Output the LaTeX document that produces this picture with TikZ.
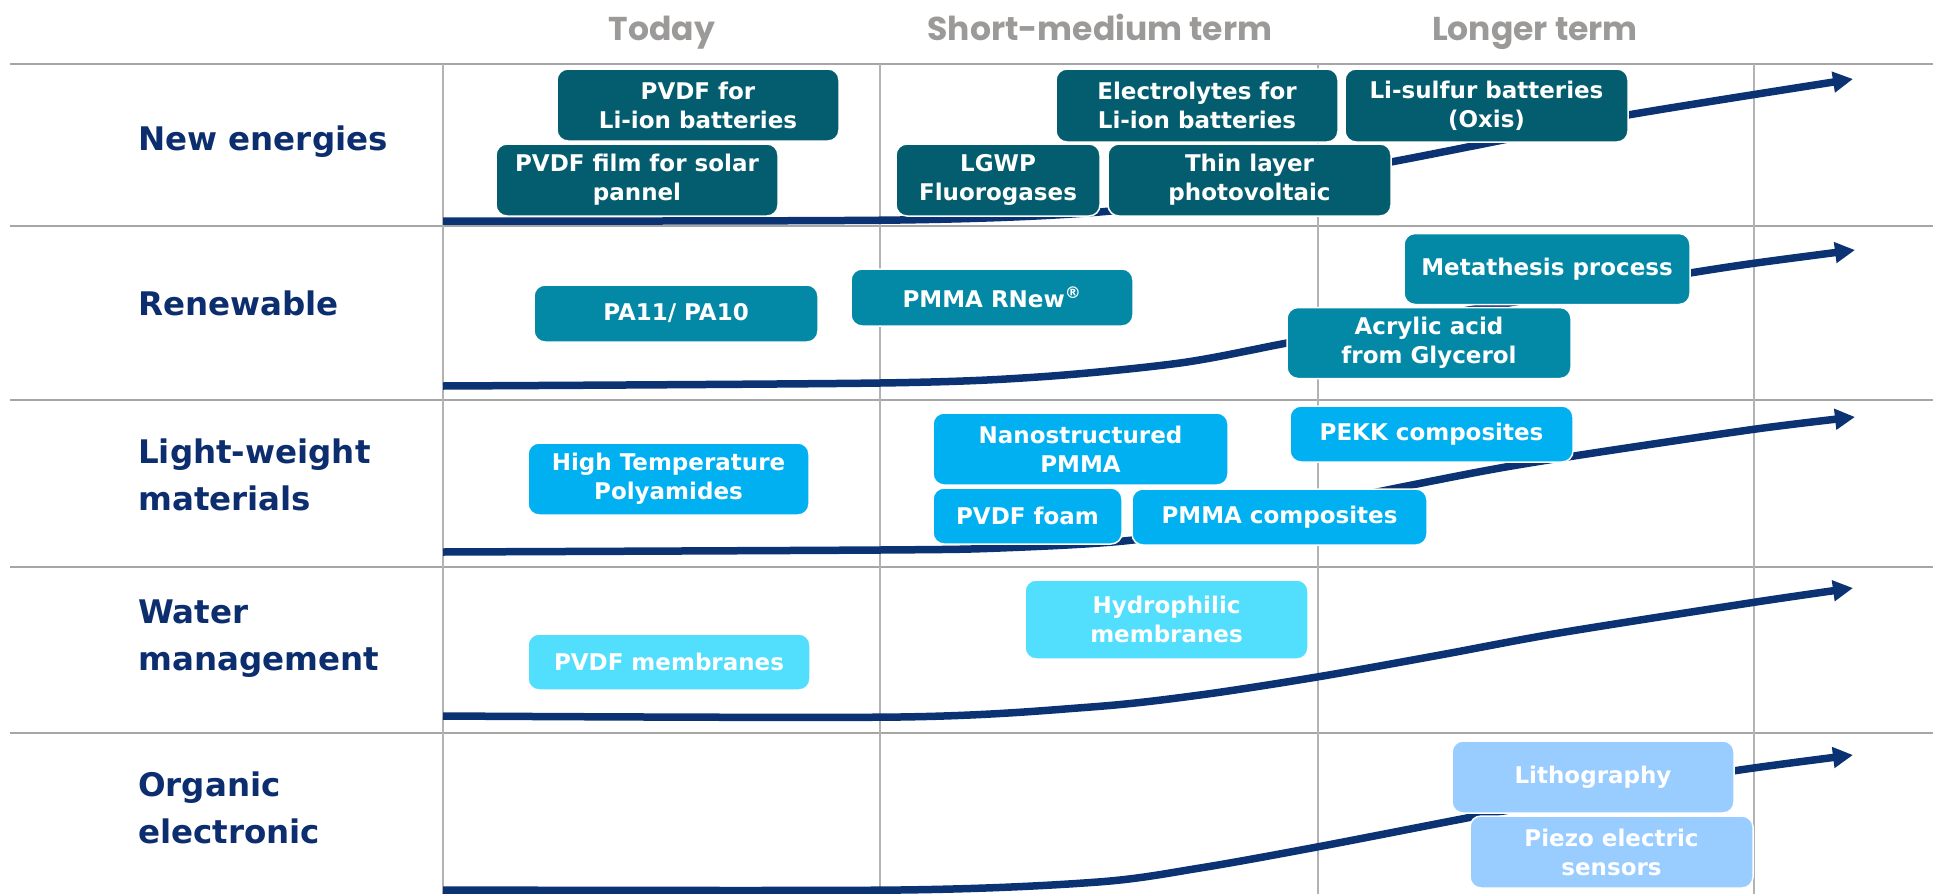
\documentclass[tikz,border=0pt]{standalone}
\usepackage{fontspec}
\usetikzlibrary{arrows.meta}
\newfontfamily\boxfont{DejaVu Sans}
\newfontfamily\hdfont{Poppins}
\definecolor{gridc}{HTML}{A6A6A6}
\definecolor{hdc}{HTML}{9C9A98}
\definecolor{navy}{HTML}{0D2E6E}
\definecolor{curvec}{HTML}{0B3373}
\definecolor{cA}{HTML}{045D6E}
\definecolor{cB}{HTML}{0388A6}
\definecolor{cC}{HTML}{00B0F0}
\definecolor{cD}{HTML}{52DFFD}
\definecolor{cE}{HTML}{99CCFF}
\begin{document}
\begin{tikzpicture}[x=1pt,y=-1pt,
 box/.style={rounded corners=11pt, draw=white, line width=1.5pt, text=white, align=center, inner sep=0pt, font=\boxfont\bfseries\fontsize{23}{29}\selectfont},
 rowlbl/.style={anchor=west, align=left, text=navy, inner sep=0pt, font=\boxfont\bfseries\fontsize{32.5}{47}\selectfont},
 hdr/.style={text=hdc, inner sep=0pt, anchor=base, font=\hdfont\bfseries\fontsize{33}{38}\selectfont},
 gridh/.style={draw=gridc, line width=2pt},
 gridv/.style={draw=gridc!85, line width=1.2pt},
 trend/.style={draw=curvec, line width=7.5pt, -{Triangle[length=20pt,width=20pt]}},
]
\fill[white] (0,0) rectangle (1933,894);
\useasboundingbox (0,0) rectangle (1933,894);

% grid
\foreach \yy in {64,226,400,567,733} \draw[gridh] (10,\yy) -- (1933,\yy);
\foreach \xx in {443,880,1318,1754} \draw[gridv] (\xx,64) -- (\xx,894);

% headers
\node[hdr] (hToday) at (662,40) {Today};
\node[hdr] (hShort) at (1100,40) {Short-medium term};
\node[hdr] (hLong) at (1535,40) {Longer term};

% row labels
\node[rowlbl] (lNew) at (138,142) {New energies};
\node[rowlbl] (lRen) at (138,303) {Renewable};
\node[rowlbl] (lLight) at (138,475) {Light-weight\\materials};
\node[rowlbl] (lWater) at (138,639) {Water\\management};
\node[rowlbl] (lOrg) at (138,808) {Organic\\electronic};

% trend curves
\draw[trend] plot[smooth, tension=0.5] coordinates {(443,221) (900,220) (1111,211) (1250,188) (1391,162) (1493,142) (1628,115) (1853,79)};
\draw[trend] plot[smooth, tension=0.5] coordinates {(443,386) (880,383) (1038,377) (1180,363) (1287,343) (1400,322) (1550,296) (1690,273) (1756,263) (1855,250)};
\draw[trend] plot[smooth, tension=0.5] coordinates {(443,552) (880,550) (1000,548) (1133,540) (1250,518) (1397,488) (1500,468) (1600,452) (1756,429) (1855,417)};
\draw[trend] plot[smooth, tension=0.5] coordinates {(443,716) (900,717) (1091,707) (1200,695) (1317,677) (1440,655) (1559,633) (1756,602) (1853,588)};
\draw[trend] plot[smooth, tension=0.5] coordinates {(443,890) (900,890) (1098,882) (1200,868) (1317,847) (1493,813) (1600,794) (1733,771) (1853,755)};

% row 1 boxes
\node[box, fill=cA, minimum width=282pt, minimum height=72pt] (a1) at (698,105) {PVDF for\\Li-ion batteries};
\node[box, fill=cA, minimum width=282pt, minimum height=72pt] (a2) at (637,180) {PVDF film for solar\\pannel};
\node[box, fill=cA, minimum width=204pt, minimum height=72pt] (a3) at (998,180) {LGWP\\Fluorogases};
\node[box, fill=cA, minimum width=282pt, minimum height=73pt] (a4) at (1197,105.5) {Electrolytes for\\Li-ion batteries};
\node[box, fill=cA, minimum width=283pt, minimum height=72pt] (a5) at (1249.5,180) {Thin layer\\photovoltaic};
\node[box, fill=cA, minimum width=283pt, minimum height=73pt] (a6) at (1486.5,105.5) {Li-sulfur batteries\\(Oxis)};

% row 2 boxes
\node[box, fill=cB, minimum width=284pt, minimum height=57pt] (b1) at (676,313.5) {PA11/ PA10};
\node[box, fill=cB, minimum width=282pt, minimum height=57pt] (b2) at (992,297.5) {PMMA RNew\textsuperscript{®}};
\node[box, fill=cB, minimum width=284pt, minimum height=71pt] (b3) at (1429,343) {Acrylic acid\\from Glycerol};
\node[box, fill=cB, minimum width=286pt, minimum height=71pt] (b4) at (1547,269) {Metathesis process};

% row 3 boxes
\node[box, fill=cC, minimum width=281pt, minimum height=72pt] (c1) at (668.5,479) {High Temperature\\Polyamides};
\node[box, fill=cC, minimum width=295pt, minimum height=72pt] (c2) at (1080.5,449) {Nanostructured\\PMMA};
\node[box, fill=cC, minimum width=189pt, minimum height=56pt] (c3) at (1027.5,516) {PVDF foam};
\node[box, fill=cC, minimum width=295pt, minimum height=56pt] (c4) at (1279.5,517) {PMMA composites};
\node[box, fill=cC, minimum width=283pt, minimum height=56pt] (c5) at (1431.5,434) {PEKK composites};

% row 4 boxes
\node[box, fill=cD, minimum width=282pt, minimum height=56pt] (d1) at (669,662) {PVDF membranes};
\node[box, fill=cD, minimum width=283pt, minimum height=79pt] (d2) at (1166.5,619.5) {Hydrophilic\\membranes};

% row 5 boxes
\node[box, fill=cE, minimum width=282pt, minimum height=72pt] (e1) at (1593,777) {Lithography};
\node[box, fill=cE, minimum width=283pt, minimum height=72pt] (e2) at (1611.5,852) {Piezo electric\\sensors};
\end{tikzpicture}
\end{document}
